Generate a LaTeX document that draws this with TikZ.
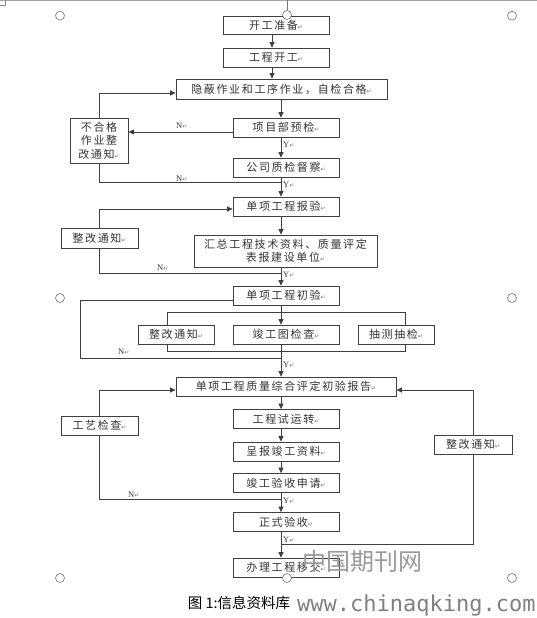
\documentclass[tikz,border=0pt]{standalone}
\usepackage{fontspec}
\usetikzlibrary{arrows.meta}
\newfontfamily\cjk[LetterSpace=15]{Noto Sans CJK SC}
\newfontfamily\cjkplain{Noto Sans CJK SC}
\newfontfamily\dv{DejaVu Sans}
\newfontfamily\dvmono{DejaVu Sans Mono}
\newfontfamily\tms{Liberation Serif}
\newcommand\rmk{{\dv\fontsize{6}{6}\selectfont\color{black!55}↵}}
\tikzset{
  box/.style={draw=black!75, line width=0.8pt, fill=white, inner sep=0pt,
    font=\cjk\fontsize{11}{13.4}\selectfont, text=black!80, align=center},
  colbox/.style={box, minimum width=106pt, minimum height=19pt},
  ln/.style={draw=black!75, line width=0.8pt},
  arr/.style={ln, -{Triangle[length=5.5pt,width=5pt]}},
  lab/.style={font=\tms\fontsize{8.5}{9}\selectfont, text=black!80, inner sep=0pt, anchor=west},
  handle/.style={draw=black!55, line width=0.6pt, fill=white}
}
\begin{document}
\begin{tikzpicture}[x=1pt,y=-1pt]
\useasboundingbox (0,0) rectangle (537,618);
% selection frame marks
\draw[black!35, line width=0.6pt] (0,0.5) -- (537,0.5);
\draw[black!45, line width=0.5pt] (0,5) -- (5,5) -- (5,0);
\draw[black!55, line width=0.6pt] (287,0) -- (287,10.5);
% bracket behind the three check boxes
\draw[ln] (167,312) rectangle (405,351);
\coordinate (cx) at (281,0);
\coordinate (cxa) at (272,0);
\coordinate (j1) at (281,182);
\coordinate (j2) at (281,273);
\coordinate (j3) at (281,358);
\coordinate (j4) at (281,499);
\coordinate (j5) at (281,544);
% nodes
\node[colbox, minimum height=18pt] (kg) at (276,25) {开工准备\rmk};
\node[colbox] (gk) at (276,57.5) {工程开工\rmk};
\node[box, minimum width=211pt, minimum height=20pt] (yb) at (281.5,89) {隐蔽作业和工序作业，自检合格\rmk};
\node[colbox] (xm) at (286,127.5) {项目部预检\rmk};
\node[box, minimum width=58pt, minimum height=45pt] (bhg) at (99,140.5) {不合格\\作业整\\改通知\rmk};
\node[colbox] (gs) at (286,167.5) {公司质检督察\rmk};
\node[colbox] (dx) at (286,206.5) {单项工程报验\rmk};
\node[box, minimum width=77pt, minimum height=20pt] (zg1) at (99.5,238) {整改通知\rmk};
\node[box, minimum width=183pt, minimum height=32pt] (hz) at (285.5,251) {汇总工程技术资料、质量评定\\表报建设单位\rmk};
\node[colbox] (cy) at (286,295.5) {单项工程初验\rmk};
\node[box, minimum width=76pt, minimum height=19pt] (zg2) at (176,334.5) {整改通知\rmk};
\node[colbox] (jt) at (286,334.5) {竣工图检查\rmk};
\node[box, minimum width=76pt, minimum height=19pt] (cc) at (396,334.5) {抽测抽检\rmk};
\node[box, minimum width=220pt, minimum height=19pt] (bg) at (286,386.5) {单项工程质量综合评定初验报告\rmk};
\node[box, minimum width=77pt, minimum height=19pt] (gy) at (99.5,425.5) {工艺检查\rmk};
\node[box, minimum width=78pt, minimum height=19pt] (zg3) at (473,444.5) {整改通知\rmk};
\node[colbox] (sy) at (286,419) {工程试运转\rmk};
\node[colbox] (cb) at (286,451.5) {呈报竣工资料\rmk};
\node[colbox] (jg) at (286,483) {竣工验收申请\rmk};
\node[colbox] (zs) at (286,522) {正式验收\rmk};
\node[colbox] (bl) at (286,567.5) {办理工程移交\rmk};
% main column connectors
\draw[arr] (kg.south -| cxa) -- (gk.north -| cxa);
\draw[arr] (gk.south -| cxa) -- (yb.north -| cxa);
\draw[arr] (yb.south -| cx) -- (xm.north -| cx);
\draw[arr] (xm.south -| cx) -- (gs.north -| cx);
\draw[arr] (gs.south -| cx) -- (dx.north -| cx);
\draw[arr] (dx.south -| cx) -- (hz.north -| cx);
\draw[arr] (hz.south -| cx) -- (cy.north -| cx);
\draw[arr] (cy.south -| cx) -- (jt.north -| cx);
\draw[arr] (jt.south -| cx) -- (bg.north -| cx);
\draw[arr] (bg.south -| cx) -- (sy.north -| cx);
\draw[arr] (sy.south -| cx) -- (cb.north -| cx);
\draw[arr] (cb.south -| cx) -- (jg.north -| cx);
\draw[arr] (jg.south -| cx) -- (zs.north -| cx);
\draw[arr] (zs.south -| cx) -- (bl.north -| cx);
% side loops
\draw[arr] ([yshift=-4.5pt]xm.west) -- ([yshift=-4.5pt]xm.west -| bhg.east);
\draw[arr] (bhg.north) |- ([yshift=-4pt]yb.west);
\draw[ln] (bhg.south) |- (j1);
\draw[arr] (zg1.north) |- ([yshift=-2.5pt]dx.west);
\draw[ln] (zg1.south) |- (j2);
\draw[ln] ([yshift=-4.5pt]cy.west) -| (80,358) -- (j3);
\draw[arr] (gy.north) |- ([yshift=-3.5pt]bg.west);
\draw[arr] (zg3.north) |- ([yshift=-3.5pt]bg.east);
\draw[ln] (gy.south) |- (j4);
\draw[ln] (zg3.south) |- (j5);
% labels
\node[lab] (n1) at (176,125.5) {N\rmk};
\node[lab] (y1) at (283,145) {Y\rmk};
\node[lab] (n2) at (176,178.3) {N\rmk};
\node[lab] (y2) at (283,184.3) {Y\rmk};
\node[lab] (n3) at (157,267.7) {N\rmk};
\node[lab] (y3) at (283,274.3) {Y\rmk};
\node[lab] (n4) at (118,351.7) {N\rmk};
\node[lab] (y4) at (283,365) {Y\rmk};
\node[lab] (n5) at (128,494.3) {N\rmk};
\node[lab] (y5) at (283,501) {Y\rmk};
\node[lab] (y6) at (283,540) {Y\rmk};
% handles
\foreach \p/\q in {60/15.7, 512/15.7, 287/15, 60/298, 512/298, 60/578, 512/578, 287/578}
  \draw[handle] (\p,\q) circle (4.5);
% watermark and caption
\node[font=\cjkplain\fontsize{24}{24}\selectfont, text=black!40, inner sep=0pt] (wm1) at (362,561) {中国期刊网};
\node[font=\cjkplain\fontsize{14.5}{15}\selectfont, text=black, inner sep=0pt] (cap) at (239,603) {图 1:信息资料库};
\node[font=\dvmono\fontsize{22}{22}\selectfont, text=black!50, inner sep=0pt, anchor=west] (wm2) at (297,605) {www.chinaqking.com};
\end{tikzpicture}
\end{document}
